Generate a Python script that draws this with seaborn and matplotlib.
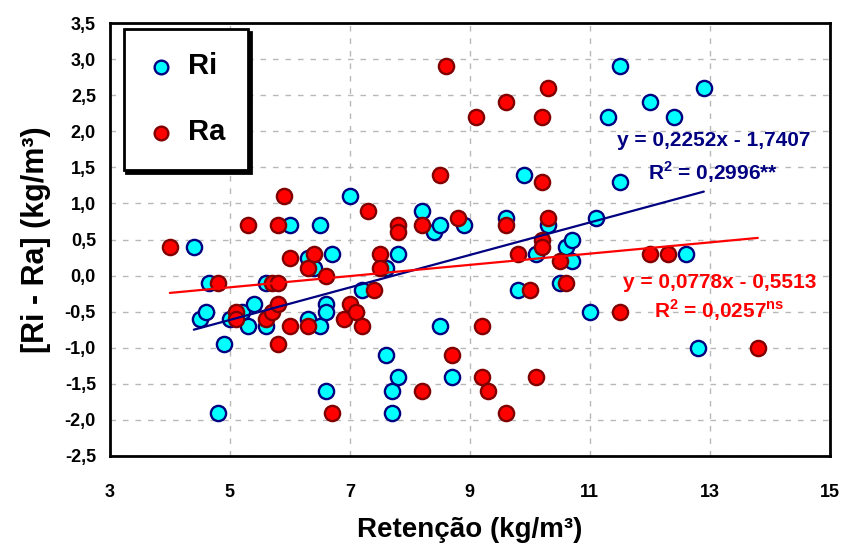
import matplotlib
matplotlib.use("Agg")
import matplotlib.pyplot as plt
import matplotlib.ticker as mticker
import seaborn as sns
import numpy as np
import pandas as pd

# Ri series (x = retencao, y = Ri - Ra)
ri_x = [4.4, 4.5, 4.6, 4.65, 4.8, 4.9, 5.0, 5.2, 5.3, 5.4, 5.6, 5.6, 6.0, 6.3, 6.3,
        6.4, 6.5, 6.5, 6.6, 6.6, 6.6, 6.7, 7.0, 7.2, 7.6, 7.6, 7.7, 7.7, 7.8, 7.8,
        8.2, 8.4, 8.5, 8.5, 8.7, 8.9, 9.6, 9.8, 9.9, 10.1, 10.3, 10.5, 10.6, 10.7, 10.7,
        11.0, 11.1, 11.3, 11.5, 11.5, 12.0, 12.4, 12.6, 12.8, 12.9]
ri_y = [0.4, -0.6, -0.5, -0.1, -1.9, -0.95, -0.6, -0.5, -0.7, -0.4, -0.1, -0.7, 0.7, 0.25, -0.6,
        0.1, 0.7, -0.7, -0.4, -0.5, -1.6, 0.3, 1.1, -0.2, 0.1, -1.1, -1.6, -1.9, 0.3, -1.4,
        0.9, 0.6, 0.7, -0.7, -1.4, 0.7, 0.8, -0.2, 1.4, 0.3, 0.7, -0.1, 0.4, 0.5, 0.2,
        -0.5, 0.8, 2.2, 2.9, 1.3, 2.4, 2.2, 0.3, -1.0, 2.6]

# Ra series
ra_x = [4.0, 4.8, 5.1, 5.1, 5.3, 5.6, 5.7, 5.7, 5.8, 5.8, 5.8, 5.8, 5.9, 6.0, 6.0,
        6.3, 6.3, 6.4, 6.6, 6.7, 6.9, 7.0, 7.1, 7.2, 7.3, 7.4, 7.5, 7.5, 7.8, 7.8,
        8.2, 8.2, 8.5, 8.6, 8.7, 8.8, 9.1, 9.2, 9.2, 9.3, 9.6, 9.6, 9.6, 9.8, 10.0,
        10.1, 10.2, 10.2, 10.2, 10.2, 10.3, 10.3, 10.5, 10.6, 11.5, 12.0, 12.3, 13.8]
ra_y = [0.4, -0.1, -0.5, -0.6, 0.7, -0.6, -0.1, -0.5, -0.1, 0.7, -0.4, -0.95, 1.1, 0.25, -0.7,
        0.1, -0.7, 0.3, 0.0, -1.9, -0.6, -0.4, -0.5, -0.7, 0.9, -0.2, 0.3, 0.1, 0.7, 0.6,
        0.7, -1.6, 1.4, 2.9, -1.1, 0.8, 2.2, -0.7, -1.4, -1.6, 2.4, 0.7, -1.9, 0.3, -0.2,
        -1.4, 2.2, 1.3, 0.5, 0.4, 2.6, 0.8, 0.2, -0.1, -0.5, 0.3, 0.3, -1.0]

# trend lines as printed on the chart
ri_slope, ri_intercept = 0.2252, -1.7407
ra_slope, ra_intercept = 0.0778, -0.5513
ri_eq = ["y = 0,2252x - 1,7407", r"R$^{\mathbf{2}}$ = 0,2996**"]
ra_eq = ["y = 0,0778x - 0,5513", r"R$^{\mathbf{2}}$ = 0,0257$^{\mathbf{ns}}$"]

x_ticks = [3, 5, 7, 9, 11, 13, 15]
y_ticks = [-2.5, -2.0, -1.5, -1.0, -0.5, 0.0, 0.5, 1.0, 1.5, 2.0, 2.5, 3.0, 3.5]

sns.set_style("white")
plt.rcParams["font.family"] = ["Liberation Sans", "DejaVu Sans"]
plt.rcParams["mathtext.fontset"] = "custom"
plt.rcParams["mathtext.rm"] = "Liberation Sans:bold"
plt.rcParams["mathtext.bf"] = "Liberation Sans:bold"
plt.rcParams["text.color"] = "black"
plt.rcParams["axes.labelcolor"] = "black"
plt.rcParams["xtick.color"] = "black"
plt.rcParams["ytick.color"] = "black"

ri_df = pd.DataFrame({"x": ri_x, "y": ri_y})
ra_df = pd.DataFrame({"x": ra_x, "y": ra_y})

fig = plt.figure(figsize=(8.45, 5.5), dpi=100)
ax = fig.add_axes([0.130, 0.171, 0.852, 0.787])

sns.scatterplot(data=ri_df, x="x", y="y", ax=ax, s=120, color="#00FFFF",
                edgecolor="#000080", linewidth=1.7, label="Ri", zorder=3)
sns.scatterplot(data=ra_df, x="x", y="y", ax=ax, s=120, color="#FF0000",
                edgecolor="#800000", linewidth=1.7, label="Ra", zorder=3)

xr = np.array([min(ri_x), max(ri_x)])
ax.plot(xr, ri_slope * xr + ri_intercept, color="#000080", lw=1.6, zorder=4)
xa = np.array([min(ra_x), max(ra_x)])
ax.plot(xa, ra_slope * xa + ra_intercept, color="#FF0000", lw=1.6, zorder=4)

ax.set_xlim(3, 15)
ax.set_ylim(-2.5, 3.5)
ax.set_xticks(x_ticks)
ax.set_yticks(y_ticks)
ax.yaxis.set_major_formatter(mticker.FuncFormatter(lambda v, p: f"{v:.1f}".replace(".", ",")))
ax.tick_params(axis="both", direction="out", length=6, width=1.5, labelsize=13)
for lab in ax.get_xticklabels() + ax.get_yticklabels():
    lab.set_fontweight("bold")
ax.tick_params(axis="x", pad=14)
ax.tick_params(axis="y", pad=4)

ax.grid(True, color="#b8b8b8", linestyle=(0, (4, 5)), linewidth=1)
for sp in ax.spines.values():
    sp.set_visible(True)
    sp.set_color("black")
    sp.set_linewidth(2)

ax.set_xlabel("Retenção (kg/m³)", fontsize=20, fontweight="bold", labelpad=12)
ax.set_ylabel("[Ri - Ra] (kg/m³)", fontsize=22, fontweight="bold", labelpad=10)

ax.text(14.68, 1.87, ri_eq[0], color="#000080", fontsize=15, fontweight="bold", ha="right", va="center")
ax.text(14.14, 1.43, ri_eq[1], color="#000080", fontsize=15, fontweight="bold", ha="right", va="center")
ax.text(14.78, -0.10, ra_eq[0], color="#FF0000", fontsize=15, fontweight="bold", ha="right", va="center")
ax.text(14.24, -0.48, ra_eq[1], color="#FF0000", fontsize=15, fontweight="bold", ha="right", va="center")

leg = ax.legend(loc="upper left", bbox_to_anchor=(0.019, 0.986), borderaxespad=0, fontsize=21,
                frameon=True, fancybox=False, shadow={"color": "black", "alpha": 1},
                edgecolor="black", borderpad=0.8, labelspacing=1.3, handlelength=1.0,
                handletextpad=0.4, markerscale=0.9)
leg.get_frame().set_linewidth(2)
for t in leg.get_texts():
    t.set_fontweight("bold")

fig.savefig("out.png", dpi=100)
